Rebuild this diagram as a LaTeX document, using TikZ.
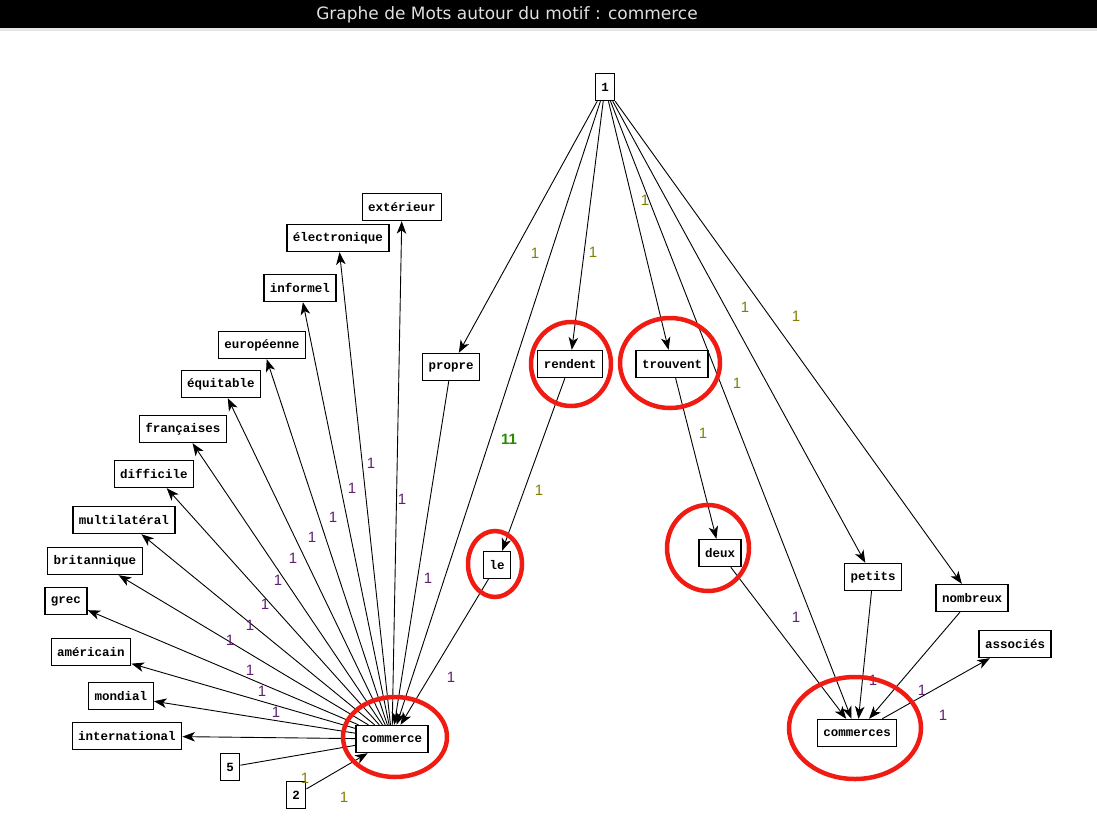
\documentclass[tikz,border=0pt]{standalone}
\usepackage{fontspec}
\setmainfont{Liberation Sans}
\setmonofont{Liberation Mono}
\newfontfamily\titlefont{DejaVu Sans}
\usetikzlibrary{arrows.meta}

\definecolor{lblolive}{RGB}{128,128,0}
\definecolor{lblpurple}{RGB}{96,32,112}
\definecolor{lblgreen}{RGB}{40,140,0}
\definecolor{ringred}{RGB}{240,28,20}

\tikzset{
  word/.style={draw, line width=1.4pt, fill=white, font=\ttfamily\bfseries\fontsize{12.5}{13}\selectfont,
    inner xsep=6pt, inner ysep=0pt, minimum height=27pt},
  wt/.style={font=\fontsize{15}{15}\selectfont, inner sep=0pt},
  ring/.style={draw=ringred, line width=4.5pt}
}

\begin{document}
\begin{tikzpicture}[->, >={Stealth[length=12.5pt,width=9.5pt,inset=3.5pt]}, x=1pt, y=-1pt, line width=0.9pt]
	\useasboundingbox (0,0) rectangle (1097,836);
	\fill[-, black] (0,0) rectangle (1097,28);
	\fill[-, gray!20] (0,28) rectangle (1097,31);
	\node (titre) [text=black!12, font=\titlefont\fontsize{17}{17}\selectfont] at (507,15) {Graphe de Mots autour du motif : commerce};

	% motif et voisins gauches
	\node (commerce) [word] at (392,739) {commerce};
	\node (exterieur) [word] at (402,207) {extérieur};
	\node (electronique) [word] at (338,238) {électronique};
	\node (informel) [word] at (300,288) {informel};
	\node (europeenne) [word] at (262,345) {européenne};
	\node (equitable) [word] at (221,384) {équitable};
	\node (francaises) [word] at (183,429) {françaises};
	\node (difficile) [word] at (154,474) {difficile};
	\node (multilateral) [word] at (124,520) {multilatéral};
	\node (britannique) [word] at (95,561) {britannique};
	\node (grec) [word] at (66,601) {grec};
	\node (americain) [word] at (91,652) {américain};
	\node (mondial) [word] at (121,696) {mondial};
	\node (international) [word] at (127,736) {international};
	\node (n5) [word] at (230,767) {5};
	\node (n2) [word] at (296,795) {2};

	% haut et droite
	\node (root) [word] at (605,87) {1};
	\node (propre) [word] at (451,367) {propre};
	\node (rendent) [word] at (570,364) {rendent};
	\node (trouvent) [word] at (672,364) {trouvent};
	\node (le) [word] at (497,565) {le};
	\node (deux) [word] at (720,553) {deux};
	\node (petits) [word] at (873,577) {petits};
	\node (nombreux) [word] at (972,598) {nombreux};
	\node (associes) [word] at (1015,644) {associés};
	\node (commerces) [word] at (857,733) {commerces};

	\path
	  (commerce) edge (exterieur)
	  (commerce) edge (electronique)
	  (commerce) edge (informel)
	  (commerce) edge (europeenne)
	  (commerce) edge (equitable)
	  (commerce) edge (francaises)
	  (commerce) edge (difficile)
	  (commerce) edge (multilateral)
	  (commerce) edge (britannique)
	  (commerce) edge (grec)
	  (commerce) edge (americain)
	  (commerce) edge (mondial)
	  (commerce) edge (international)
	  (n5) edge[-] (commerce)
	  (n2) edge (commerce)
	  (propre) edge (commerce)
	  (le) edge (commerce)
	  (root) edge (commerce)
	  (root) edge (propre)
	  (root) edge (rendent)
	  (root) edge (trouvent)
	  (root) edge (commerces)
	  (root) edge (petits)
	  (root) edge (nombreux)
	  (rendent) edge (le)
	  (trouvent) edge (deux)
	  (deux) edge (commerces)
	  (petits) edge (commerces)
	  (nombreux) edge (commerces)
	  (commerces) edge (associes);

	% poids
	\foreach \x/\y [count=\i] in {402/499, 371/463, 352/488, 333/517, 312/537, 293/558, 278/580, 265/604,
	    250/625, 230/640, 250/670, 262/691, 276/712, 428/578, 451/677, 796/617, 873/680, 922/690, 943/715}
	  \node (lp\i) [wt, text=lblpurple] at (\x,\y) {1};
	\foreach \x/\y [count=\i] in {535/253, 593/252, 645/200, 745/307, 796/316, 737/383, 703/433, 539/490, 305/778, 344/797}
	  \node (lo\i) [wt, text=lblolive] at (\x,\y) {1};
	\node (lg) [wt, text=lblgreen, font=\bfseries\fontsize{15}{15}\selectfont] at (509,439) {11};

	% cercles rouges
	\draw[-, ring] (395,737) ellipse (52pt and 40pt);
	\draw[-, ring] (571,364) ellipse (40pt and 42pt);
	\draw[-, ring] (670,363) ellipse (50pt and 45pt);
	\draw[-, ring] (495,564) ellipse (27pt and 33pt);
	\draw[-, ring] (708,548) ellipse (41pt and 43pt);
	\draw[-, ring] (855,728) ellipse (66pt and 51pt);
\end{tikzpicture}
\end{document}
